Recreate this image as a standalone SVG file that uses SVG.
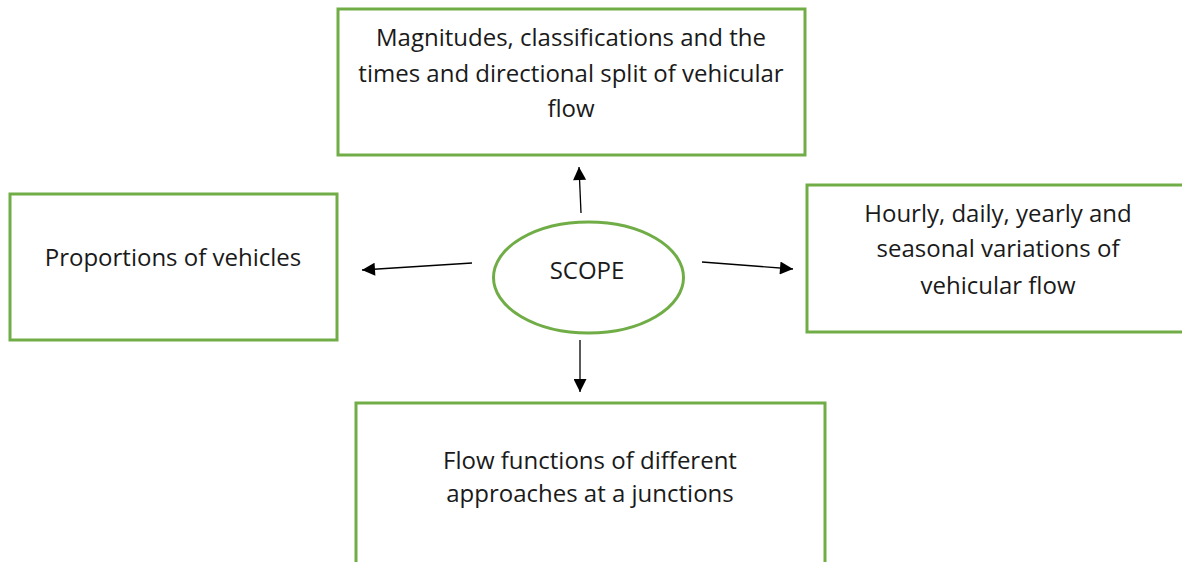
<svg xmlns="http://www.w3.org/2000/svg" width="1182" height="562" viewBox="0 0 1182 562">
  <defs>
    <style>
      .box { fill: #ffffff; stroke: #70ad47; stroke-width: 3; }
      .label { font-family: "Open Sans", Lato, "Liberation Sans", sans-serif; font-size: 24px; fill: #1a1a1a; text-anchor: middle; }
      .conn { stroke: #000000; stroke-width: 1.3; fill: none; marker-end: url(#arrow); }
    </style>
    <marker id="arrow" viewBox="0 0 10 10" refX="10" refY="5" markerWidth="14" markerHeight="13" markerUnits="userSpaceOnUse" orient="auto">
      <path d="M0,0 L10,5 L0,10 z" fill="#000000"/>
    </marker>
  </defs>
  <rect width="1182" height="562" fill="#ffffff"/>

  <g id="node-magnitudes">
    <rect class="box" x="338" y="9" width="467" height="146"/>
    <text class="label" x="571" y="46">Magnitudes, classifications and the</text>
    <text class="label" x="571" y="82">times and directional split of vehicular</text>
    <text class="label" x="571" y="117">flow</text>
  </g>

  <g id="node-proportions">
    <rect class="box" x="10" y="194" width="327" height="146"/>
    <text class="label" x="173" y="266">Proportions of vehicles</text>
  </g>

  <g id="node-scope">
    <ellipse class="box" cx="588.5" cy="277.5" rx="95" ry="55.5"/>
    <text class="label" x="587" y="279">SCOPE</text>
  </g>

  <g id="node-variations">
    <rect class="box" x="807" y="185" width="380" height="147"/>
    <text class="label" x="998" y="222">Hourly, daily, yearly and</text>
    <text class="label" x="998" y="257">seasonal variations of</text>
    <text class="label" x="998" y="294">vehicular flow</text>
  </g>

  <g id="node-flow-functions">
    <rect class="box" x="356" y="403" width="469" height="170"/>
    <text class="label" x="590" y="469">Flow functions of different</text>
    <text class="label" x="590" y="502">approaches at a junctions</text>
  </g>

  <g id="connectors">
    <line class="conn" x1="581" y1="213" x2="579" y2="167"/>
    <line class="conn" x1="472" y1="263" x2="362" y2="270"/>
    <line class="conn" x1="702" y1="262" x2="793" y2="269"/>
    <line class="conn" x1="580" y1="340" x2="580" y2="392"/>
  </g>
</svg>
